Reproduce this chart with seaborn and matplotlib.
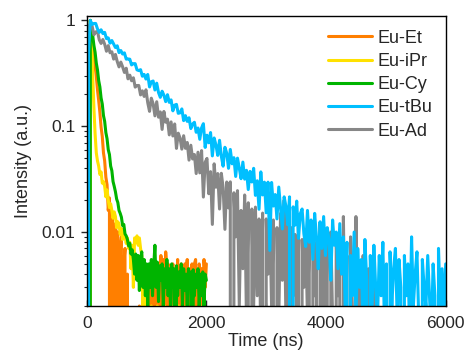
import matplotlib

matplotlib.use("Agg")
import matplotlib.pyplot as plt  # noqa: E402
import numpy as np  # noqa: E402
import pandas as pd  # noqa: E402
import seaborn as sns  # noqa: E402
from matplotlib.ticker import FixedLocator, FuncFormatter, LogLocator, MultipleLocator, NullFormatter  # noqa: E402

sns.set_style("ticks")
plt.rcParams["font.family"] = ["Liberation Sans", "DejaVu Sans"]

# decay traces, counts normalised so that the peak is 10000
short_step = 20  # ns per channel, Eu-Et / Eu-iPr / Eu-Cy
long_step = 30   # ns per channel, Eu-tBu / Eu-Ad

et_counts = [
    0, 0, 0, 10000, 7800, 6100, 4900, 3700, 2950, 2200,
    1750, 1350, 980, 800, 560, 470, 330, 280, 160, 210,
    0, 150, 110, 0, 120, 80, 100, 0, 70, 90,
    0, 50, 70, 0, 40, 0, 15, 0, 10, 0,
    10, 0, 15, 0, 20, 0, 10, 0, 20, 0,
    10, 30, 0, 40, 20, 0, 40, 30, 0, 50,
    20, 0, 60, 30, 55, 0, 65, 40, 50, 0,
    40, 30, 50, 0, 40, 30, 55, 0, 40, 50,
    20, 0, 50, 40, 55, 0, 45, 30, 50, 0,
    50, 55, 20, 0, 50, 40, 45, 0, 55, 30,
    50,
]
ipr_counts = [
    0, 0, 0, 10000, 6400, 3100, 1500, 850, 560, 470,
    420, 350, 370, 290, 300, 270, 215, 250, 200, 170,
    185, 160, 135, 155, 140, 110, 125, 118, 95, 108,
    85, 98, 92, 78, 88, 70, 80, 45, 75, 30,
    88, 80, 92, 75, 88, 70, 60, 20, 45, 0,
    25, 0, 15, 0, 20, 10, 0, 15, 0, 20,
    0, 10, 0, 15, 0, 20, 0, 10, 0, 15,
    0, 20, 0, 10, 0, 15, 0, 20, 0, 10,
    0, 15, 0, 20, 0, 10, 0, 15, 0, 20,
    0, 10, 0, 15, 0, 20, 0, 10, 0, 15,
    0,
]
cy_counts = [
    0, 0, 0, 10000, 8500, 7200, 5800, 5000, 3950, 3400,
    2700, 2350, 1850, 1620, 1260, 1110, 870, 760, 600, 540,
    420, 380, 300, 270, 240, 205, 190, 160, 150, 138,
    115, 118, 96, 92, 85, 74, 78, 62, 68, 55,
    40, 62, 35, 60, 28, 55, 65, 30, 55, 25,
    50, 20, 50, 30, 55, 25, 48, 75, 30, 52,
    22, 48, 35, 50, 20, 45, 30, 55, 25, 45,
    20, 50, 30, 45, 0, 48, 25, 42, 30, 50,
    20, 45, 28, 40, 20, 45, 30, 42, 0, 44,
    25, 40, 30, 45, 20, 40, 25, 42, 20, 40,
    35,
]
tbu_counts = [
    0, 5000, 10000,
    9147, 9342, 9348, 8317, 7696, 8149, 7513, 7697, 6726, 6824,
    6092, 6448, 5981, 5541, 5751, 4957, 5188, 4810, 4930, 4304,
    4317, 4297, 3794, 3898, 3900, 3408, 3355, 3420, 2966, 3084,
    2790, 3080, 2350, 2629, 2673, 2198, 2549, 2082, 1874, 2140,
    1963, 1707, 1984, 1679, 1772, 1397, 1581, 1607, 1324, 1337,
    1456, 1129, 1258, 1111, 1201, 950, 1048, 1089, 876, 961,
    752, 965, 1056, 630, 822, 697, 871, 524, 774, 664,
    530, 736, 521, 419, 632, 557, 400, 603, 441, 504,
    335, 499, 402, 319, 458, 316, 383, 252, 374, 297,
    400, 222, 305, 164, 370, 224, 296, 152, 296, 67,
    294, 176, 226, 133, 266, 169, 107, 215, 175, 117,
    215, 0, 173, 116, 196, 87, 149, 165, 96, 73,
    160, 80, 130, 55, 150, 90, 45, 125, 70, 140,
    60, 110, 85, 35, 130, 75, 100, 45, 120, 40,
    90, 20, 80, 0, 60, 25, 100, 15, 70, 30,
    55, 10, 85, 35, 0, 60, 20, 75, 30, 15,
    60, 25, 80, 10, 50, 0, 65, 20, 45, 70,
    15, 55, 30, 0, 60, 25, 50, 10, 90, 20,
    40, 65, 15, 0, 55, 30, 20, 60, 25, 10,
    50, 25, 0, 70, 20, 45, 15, 50,
]
ad_counts = [
    0, 9000, 8800,
    8823, 7318, 7779, 7853, 6546, 6050, 6593, 5952, 5107, 5770,
    4941, 5047, 4306, 4764, 4083, 3635, 4033, 3642, 3220, 3529,
    2803, 3035, 2687, 2866, 2340, 2421, 2426, 1976, 2158, 1911,
    2207, 1667, 1381, 1840, 1628, 1252, 1703, 1217, 1364, 932,
    1378, 1091, 1166, 828, 1098, 808, 1050, 617, 859, 773,
    607, 813, 618, 702, 478, 661, 490, 540, 357, 568,
    362, 588, 214, 457, 496, 230, 372, 118, 441, 265,
    357, 165, 359, 263, 106, 297, 169, 298, 0, 235,
    90, 246, 20, 160, 45, 224, 15, 189, 0, 165,
    20, 172, 25, 133, 10, 151, 0, 133, 40, 136,
    20, 130, 0, 110, 15, 150, 35, 200, 15, 120,
    0, 110, 25, 95, 10, 120, 0, 85, 30, 100,
    15, 90, 0, 110, 25, 80, 0, 120, 20, 70,
    10, 90, 0, 100, 15, 0, 85, 25, 70, 0,
    140, 10, 60, 0, 90, 20, 0, 140, 15, 50,
    0, 60, 15, 0, 45, 20, 0, 40, 10, 0,
]

labels = ["Eu-Et", "Eu-iPr", "Eu-Cy", "Eu-tBu", "Eu-Ad"]
colors = ["#FF7F00", "#FFE100", "#00B400", "#00BFFF", "#878787"]
series = [
    (et_counts, short_step),
    (ipr_counts, short_step),
    (cy_counts, short_step),
    (tbu_counts, long_step),
    (ad_counts, long_step),
]
draw_order = [0, 1, 2, 4, 3]  # Eu-Ad sits under Eu-tBu

fig = plt.figure(figsize=(4.68, 3.6), dpi=100)
ax = fig.add_axes([0.1853, 0.15, 0.767, 0.8056])

handles = {}
for i in draw_order:
    counts, step = series[i]
    df = pd.DataFrame({
        "time": np.arange(len(counts)) * step,
        "intensity": np.array(counts, dtype=float) / 10000,
    })
    sns.lineplot(data=df, x="time", y="intensity", color=colors[i], linewidth=2.2,
                 estimator=None, sort=False, ax=ax, legend=False)
    handles[i] = ax.get_lines()[-1]

ax.set_yscale("log")
ax.set_xlim(0, 6000)
ax.set_ylim(0.002, 1.1)

ax.xaxis.set_major_locator(MultipleLocator(2000))
ax.xaxis.set_minor_locator(MultipleLocator(1000))
ax.yaxis.set_major_locator(FixedLocator([0.01, 0.1, 1]))
ax.yaxis.set_major_formatter(FuncFormatter(lambda v, _: f"{v:g}"))
ax.yaxis.set_minor_locator(LogLocator(base=10, subs=np.arange(2, 10)))
ax.yaxis.set_minor_formatter(NullFormatter())

ax.tick_params(axis="x", which="major", direction="in", length=4, width=1, labelsize=12.5, pad=7)
ax.tick_params(axis="x", which="minor", direction="in", length=2.5, width=1)
ax.tick_params(axis="y", which="major", direction="out", length=4.3, width=1, labelsize=12.5, pad=4)
ax.tick_params(axis="y", which="minor", direction="out", length=2.5, width=0.8)
for sp in ax.spines.values():
    sp.set_linewidth(1)
    sp.set_color("black")

ax.set_xlabel("Time (ns)", fontsize=13, labelpad=2)
ax.set_ylabel("Intensity (a.u.)", fontsize=13, labelpad=7)

ax.legend([handles[i] for i in range(5)], labels, loc="upper right", frameon=False,
          fontsize=13, handlelength=2.45, handletextpad=0.3, labelspacing=0.35,
          borderaxespad=0.35)

fig.savefig("out.png", dpi=100)
